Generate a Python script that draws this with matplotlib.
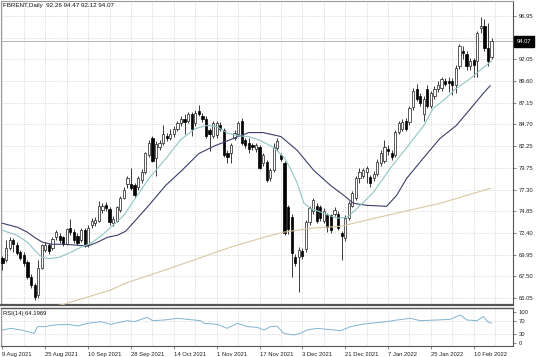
import matplotlib
matplotlib.use("Agg")
import matplotlib.pyplot as plt
import numpy as np

# daily bars, 9 Aug 2021 .. 17 Feb 2022
opens = [69.6, 69.3, 70.7, 71.6, 71.0, 70.2, 69.9, 69.1, 67.4, 66.5,
         65.4, 68.5, 70.5, 71.0, 70.7, 72.0, 72.1, 71.9, 71.2, 73.0,
         72.5, 72.1, 71.6, 72.7, 71.0, 73.3, 73.5, 73.8, 75.0, 75.6,
         75.1, 73.5, 73.8, 75.0, 76.4, 78.0, 78.0, 77.8, 77.6, 78.4,
         79.3, 81.2, 83.1, 80.9, 82.1, 82.6, 83.4, 83.1, 83.6, 84.2,
         84.8, 85.3, 85.1, 85.9, 84.8, 86.2, 85.6, 85.3, 84.0, 83.4,
         83.5, 84.6, 84.0, 81.5, 81.4, 83.2, 83.6, 85.1, 82.9, 82.6,
         82.3, 81.9, 82.1, 80.3, 80.4, 78.6, 79.5, 82.0, 81.2, 80.3,
         75.3, 74.2, 69.7, 69.7, 70.4, 70.6, 73.6, 74.9, 75.5, 75.3,
         73.8, 74.4, 74.4, 74.6, 74.6, 72.4, 71.8, 74.1, 75.5, 76.4,
         78.6, 78.9, 79.3, 78.7, 78.6, 79.1, 80.3, 80.6, 81.9, 81.5,
         81.2, 83.8, 84.2, 85.1, 84.9, 86.6, 88.7, 87.9, 85.9, 88.7,
         86.8, 87.9, 88.7, 88.8, 89.6, 89.6, 89.6, 89.1, 91.3, 93.0,
         92.7, 91.3, 92.0, 91.9, 95.6, 95.8, 93.3, 92.26]
highs = [69.8, 71.6, 71.9, 71.8, 71.4, 70.5, 70.2, 69.4, 67.8, 66.8,
         69.3, 71.2, 71.4, 71.3, 72.0, 72.7, 72.4, 72.1, 73.0, 74.0,
         72.8, 72.4, 73.0, 73.0, 73.3, 74.1, 74.2, 76.0, 75.8, 75.9,
         75.3, 74.3, 75.5, 76.6, 77.6, 78.9, 79.8, 78.1, 78.9, 79.6,
         81.6, 82.9, 83.4, 82.8, 82.9, 84.6, 83.7, 84.2, 84.5, 85.1,
         85.6, 85.9, 86.1, 86.1, 86.3, 86.9, 86.0, 85.6, 84.3, 85.1,
         85.1, 84.9, 84.3, 81.8, 82.6, 84.0, 85.1, 85.4, 83.2, 83.1,
         82.6, 82.6, 82.4, 81.5, 80.7, 79.8, 82.6, 83.1, 81.5, 80.6,
         75.6, 74.5, 70.0, 70.8, 70.7, 73.9, 75.5, 76.4, 75.8, 75.6,
         75.2, 74.7, 74.6, 75.3, 74.9, 72.6, 74.4, 76.0, 77.2, 78.9,
         79.8, 79.8, 80.0, 79.0, 79.4, 80.8, 81.8, 82.9, 82.3, 81.8,
         84.1, 85.1, 85.3, 85.4, 86.8, 88.8, 89.3, 88.2, 87.9, 89.1,
         88.5, 89.0, 89.6, 90.1, 89.9, 90.0, 89.9, 91.4, 93.8, 93.6,
         93.0, 92.2, 92.2, 95.3, 96.8, 96.6, 96.2, 94.47]
lows = [68.2, 69.1, 70.5, 70.3, 69.9, 69.3, 68.7, 67.2, 66.2, 64.8,
        65.1, 68.3, 70.2, 70.0, 70.5, 71.6, 71.3, 70.9, 71.0, 72.2,
        71.3, 71.0, 71.4, 70.8, 70.8, 73.0, 73.2, 73.6, 74.7, 74.9,
        73.3, 73.2, 73.6, 74.8, 76.2, 77.5, 77.3, 76.4, 77.3, 78.1,
        79.1, 81.0, 80.4, 78.9, 81.8, 82.4, 82.8, 82.9, 83.3, 83.9,
        84.5, 83.6, 84.8, 83.4, 84.5, 85.6, 85.0, 83.2, 81.7, 83.2,
        83.1, 83.9, 81.0, 80.3, 80.3, 82.9, 83.4, 82.3, 82.0, 81.5,
        81.8, 81.6, 79.6, 80.0, 78.2, 78.3, 79.3, 81.8, 80.6, 72.2,
        72.3, 67.4, 68.7, 65.7, 69.5, 70.3, 73.3, 74.6, 73.5, 73.8,
        73.5, 72.5, 72.4, 74.3, 72.7, 69.3, 71.5, 73.9, 75.3, 76.1,
        78.1, 78.6, 78.1, 77.6, 78.3, 78.9, 80.0, 80.3, 81.2, 80.7,
        81.0, 83.6, 83.9, 83.9, 84.6, 86.3, 87.3, 86.8, 85.1, 86.5,
        86.5, 87.6, 88.4, 88.5, 89.0, 88.3, 88.0, 88.2, 91.0, 92.1,
        90.8, 90.8, 90.0, 90.0, 95.0, 93.0, 91.3, 92.12]
closes = [69.0, 70.7, 71.6, 71.2, 70.1, 69.6, 69.0, 67.4, 66.5, 65.2,
          68.5, 71.1, 71.1, 70.4, 71.7, 72.5, 71.6, 71.2, 72.8, 72.5,
          71.6, 71.3, 72.7, 71.0, 73.0, 73.8, 73.9, 75.5, 75.5, 75.2,
          73.6, 74.0, 75.3, 76.4, 77.3, 78.6, 77.5, 76.7, 78.6, 79.3,
          81.4, 82.6, 80.6, 82.5, 82.6, 83.6, 83.1, 83.6, 84.2, 84.8,
          85.3, 84.9, 85.9, 84.2, 86.0, 85.9, 85.3, 83.4, 83.6, 84.8,
          84.8, 84.2, 81.2, 81.0, 82.3, 83.7, 84.8, 82.6, 82.3, 81.9,
          82.1, 82.3, 79.8, 81.2, 78.4, 79.5, 82.1, 82.8, 80.8, 72.4,
          72.9, 70.1, 69.0, 70.5, 69.8, 73.6, 75.2, 76.1, 73.8, 74.1,
          74.9, 73.1, 72.7, 75.0, 73.0, 72.1, 74.1, 75.8, 76.9, 78.6,
          79.3, 79.5, 79.7, 78.1, 79.1, 80.4, 81.5, 82.1, 81.7, 81.0,
          83.8, 84.8, 84.9, 84.2, 86.5, 88.5, 87.6, 87.1, 87.6, 86.8,
          88.2, 88.7, 89.1, 89.8, 89.3, 89.4, 89.1, 91.1, 93.6, 92.8,
          91.3, 91.9, 91.4, 95.0, 95.8, 93.3, 91.9, 94.07]

# moving averages (bar index, price)
fast_ma_bars = [0, 4, 7, 9, 11, 13, 16, 19, 22, 25, 28, 31, 34, 37, 41, 46, 50, 54,
                57, 60, 63, 66, 69, 72, 76, 79, 81, 82.6, 84.4, 86.3, 90, 93.7, 96.5,
                98.8, 100.2, 103.9, 108.6, 113, 118, 120.6, 124.4, 127, 131, 133.6, 136, 137]
fast_ma = [72.71, 72.15, 71.36, 70.46, 69.67, 69.50, 69.67, 70.20, 70.80, 71.30, 72.20,
           73.30, 74.40, 76.20, 78.57, 80.94, 83.00, 84.20, 84.55, 84.45, 83.70, 83.40,
           83.30, 82.90, 82.07, 80.90, 79.40, 78.00, 75.80, 75.19, 74.63, 74.07, 74.18,
           74.97, 75.53, 77.00, 79.70, 81.96, 84.55, 86.47, 87.71, 88.72, 89.85, 90.75,
           91.54, 91.85]
slow_ma_bars = [0, 4.2, 7, 8.9, 11.2, 13.6, 17.3, 21, 23.8, 26.6, 29.4, 32.2, 34.5, 41,
                45.7, 50.3, 55, 59.6, 62.5, 66, 69, 73, 78, 82.6, 87.2, 91.9, 95.6, 98.3,
                102, 107.6, 110.4, 113.2, 117.8, 122.5, 127.1, 131.8, 134.6, 136.6]
slow_ma = [73.50, 73.05, 72.49, 71.92, 71.36, 71.13, 71.13, 71.02, 70.91, 71.36, 71.92,
           72.15, 72.60, 75.53, 77.78, 79.50, 81.39, 82.29, 82.74, 83.31, 83.76, 83.76,
           83.31, 81.73, 79.48, 77.78, 76.66, 75.76, 75.53, 75.42, 76.66, 78.57, 80.83,
           83.08, 84.55, 86.80, 88.16, 89.06]
ma200_bars = [5, 12.7, 16.4, 30.3, 34.5, 47.1, 63.9, 72.3, 78.7, 86.3, 94.7, 103,
              111.4, 122.6, 136.6]
ma200 = [63.30, 64.03, 64.26, 65.95, 66.74, 68.43, 70.80, 71.81, 72.49, 72.94, 73.16,
         73.95, 74.74, 75.76, 77.45]

rsi_bars = [0, 2.4, 5.2, 8.9, 9.8, 11.7, 14.5, 18.2, 21, 23.8, 27.5, 30.3, 35, 36.9,
            40.6, 42, 45.3, 49, 51.8, 55.5, 56.4, 60.2, 62.9, 65.8, 68.6, 71.4, 73.2,
            75.1, 76.9, 78.8, 81.6, 83.5, 85.3, 88.1, 90.9, 94.7, 97.5, 101.2, 104.9,
            107.7, 110.5, 114.3, 117, 121.7, 125.4, 128.2, 130.1, 132.9, 134.7, 136, 137]
rsi = [41.9, 47.3, 41.9, 31.2, 52.7, 52.7, 58.1, 60.2, 54.8, 63.4, 68.8, 60.2, 72.0,
       68.8, 82.8, 72.0, 74.2, 79.6, 76.3, 72.0, 63.4, 60.2, 47.3, 63.4, 52.7, 50.5,
       41.9, 52.7, 54.8, 31.2, 25.8, 31.2, 41.9, 47.3, 44.1, 39.8, 52.7, 61.3, 65.6,
       68.8, 74.2, 79.6, 72.0, 74.2, 76.3, 90.3, 74.2, 72.0, 84.9, 68.0, 64.2]

price_ticks = [96.95, 94.50, 92.05, 89.60, 87.15, 84.70, 82.25, 79.75, 77.30,
               74.85, 72.40, 69.95, 67.50, 65.05]
date_bars = [0, 12, 24, 36, 48, 60, 72, 84, 96, 108, 120, 132]
date_labels = ["9 Aug 2021", "25 Aug 2021", "10 Sep 2021", "28 Sep 2021",
               "14 Oct 2021", "1 Nov 2021", "17 Nov 2021", "3 Dec 2021",
               "21 Dec 2021", "7 Jan 2022", "25 Jan 2022", "10 Feb 2022"]
last_price = 94.07
rsi_last = "64.1969"

plt.rcParams['font.family'] = ['Liberation Sans', 'DejaVu Sans']
FS = 4.2
GRID = dict(color='#c4c4c4', lw=0.5, ls=(0, (1, 1.5)))

W, H = 536, 357
fig = plt.figure(figsize=(W / 100, H / 100), dpi=100)
ax = fig.add_axes([1 / W, 1 - 305 / H, 512 / W, 304 / H])
ax_rsi = fig.add_axes([1 / W, 1 - 346 / H, 512 / W, 38 / H])

o = np.array(opens); h = np.array(highs); l = np.array(lows); c = np.array(closes)
x = np.arange(len(c))
up = c >= o

ax.set_xlim(-0.42, 143.0)
ax.set_ylim(64.26, 98.64)

ax.vlines(x, l, h, color='#1a1a1a', lw=0.6, zorder=3)
lo = np.minimum(o, c)
hb = np.maximum(np.abs(c - o), 0.08)
ax.bar(x[up], hb[up], bottom=lo[up], width=0.62, color='white',
       edgecolor='#1a1a1a', lw=0.5, zorder=4)
ax.bar(x[~up], hb[~up], bottom=lo[~up], width=0.62, color='black',
       edgecolor='black', lw=0.5, zorder=4)

ax.plot(ma200_bars, ma200, color='#d9c7a6', lw=0.8, zorder=5)
ax.plot(slow_ma_bars, slow_ma, color='#3b3f66', lw=0.8, zorder=5)
ax.plot(fast_ma_bars, fast_ma, color='#8fc6c4', lw=0.8, zorder=5)

ax.axhline(last_price, color='#a8a8a8', lw=0.6, zorder=1)

ax.set_xticks(np.arange(0, 143, 6))
ax.set_yticks(price_ticks)
ax.set_yticklabels([f"{v:.2f}" for v in price_ticks])
ax.yaxis.tick_right()
ax.tick_params(axis='x', length=0, labelbottom=False)
ax.tick_params(axis='y', length=2, width=0.5, pad=2, labelsize=FS,
               color='#555555', labelcolor='#222222')
ax.grid(True, **GRID)
ax.set_axisbelow(True)

for s in ('top', 'left'):
    ax.spines[s].set_color('#9a9a9a')
    ax.spines[s].set_linewidth(0.8)
ax.spines['right'].set_color('#555555')
ax.spines['right'].set_linewidth(0.8)
ax.spines['bottom'].set_color('#555555')
ax.spines['bottom'].set_linewidth(1.6)

ax.text(0.004, 0.992, "FBRENT,Daily  92.26 94.47 92.12 94.07", transform=ax.transAxes,
        ha='left', va='top', fontsize=FS + 0.3, color='#111111')
ax.text(1 + 4 / 512, last_price, f"{last_price:.2f}", transform=ax.get_yaxis_transform(),
        ha='left', va='center', fontsize=FS, color='white', clip_on=False, zorder=10,
        bbox=dict(boxstyle='square,pad=0.45', fc='black', ec='black'))

# RSI panel
ax_rsi.set_xlim(-0.42, 143.0)
ax_rsi.set_ylim(-9.7, 112.9)
ax_rsi.plot(rsi_bars, rsi, color='#82b4cf', lw=0.7, zorder=3)
for lvl in (30, 70):
    ax_rsi.axhline(lvl, **GRID, zorder=1)
ax_rsi.set_xticks(np.arange(0, 143, 6), minor=True)
ax_rsi.set_xticks(date_bars)
ax_rsi.set_xticklabels(date_labels, ha='left')
ax_rsi.grid(True, axis='x', which='both', **GRID)
ax_rsi.set_axisbelow(True)
ax_rsi.set_yticks([0, 30, 70, 100])
ax_rsi.yaxis.tick_right()
ax_rsi.tick_params(axis='y', length=2, width=0.5, pad=2, labelsize=FS,
                   color='#555555', labelcolor='#222222')
ax_rsi.tick_params(axis='x', which='major', length=2, width=0.5, pad=2, labelsize=FS,
                   color='#555555', labelcolor='#222222')
ax_rsi.tick_params(axis='x', which='minor', length=0)
ax_rsi.spines['left'].set_color('#9a9a9a')
for s in ('top', 'right', 'bottom'):
    ax_rsi.spines[s].set_color('#555555')
ax_rsi.spines['top'].set_linewidth(1.0)
ax_rsi.spines['right'].set_linewidth(0.8)
ax_rsi.spines['bottom'].set_linewidth(0.8)
ax_rsi.text(0.004, 0.93, f"RSI(14) {rsi_last}", transform=ax_rsi.transAxes,
            ha='left', va='top', fontsize=FS, color='#111111')

fig.savefig("out.png", dpi=100)
